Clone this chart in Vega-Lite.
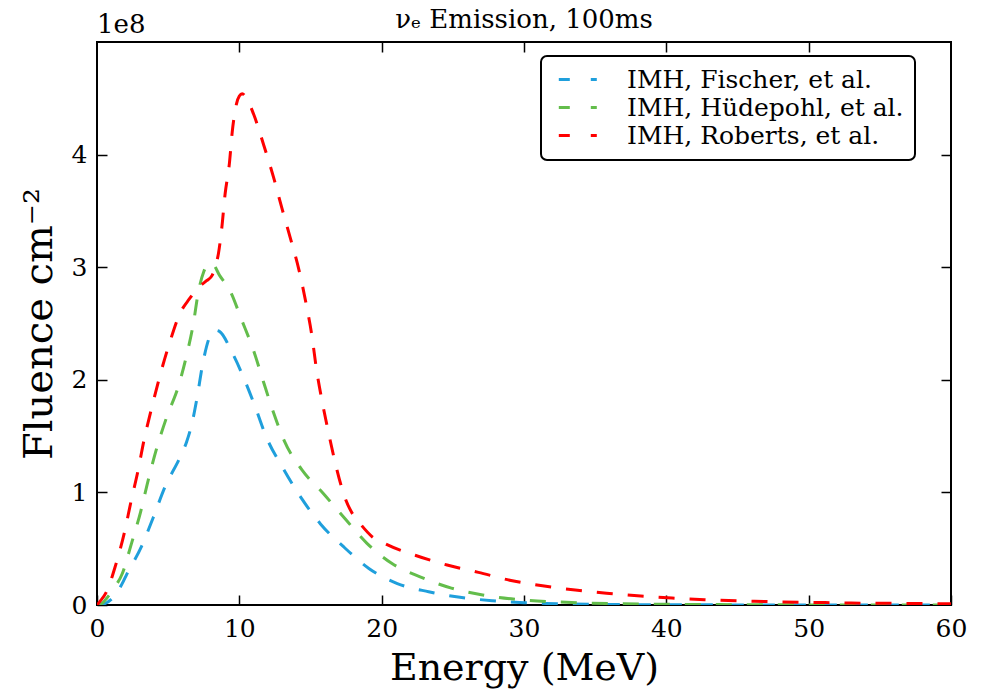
{
  "$schema": "https://vega.github.io/schema/vega-lite/v6.json",
  "width": 854,
  "height": 563,
  "autosize": "none",
  "padding": {"left": 97, "top": 42, "right": 31, "bottom": 85},
  "background": "white",
  "config": {
    "font": "DejaVu Serif",
    "view": {"stroke": "black", "strokeWidth": 2},
    "axis": {
      "grid": false,
      "domain": false,
      "tickColor": "black",
      "tickWidth": 1.5,
      "tickSize": -10,
      "labelFont": "DejaVu Serif",
      "labelFontSize": 25,
      "labelColor": "black",
      "labelFlush": false,
      "labelOverlap": false,
      "titleFont": "DejaVu Serif",
      "titleFontWeight": "normal",
      "titleColor": "black"
    },
    "legend": {"strokeWidth": 2}
  },
  "title": {
    "text": "νₑ Emission, 100ms",
    "font": "DejaVu Serif",
    "fontSize": 26,
    "fontWeight": "normal",
    "color": "black",
    "anchor": "middle",
    "offset": -21
  },
  "layer": [
    {
      "data": {"values": [
        {"model": "IMH, Fischer, et al.", "energy": 0, "fluence": 0},
        {"model": "IMH, Fischer, et al.", "energy": 0.5, "fluence": 0.01},
        {"model": "IMH, Fischer, et al.", "energy": 1.0, "fluence": 0.05},
        {"model": "IMH, Fischer, et al.", "energy": 1.5, "fluence": 0.13},
        {"model": "IMH, Fischer, et al.", "energy": 1.85, "fluence": 0.21},
        {"model": "IMH, Fischer, et al.", "energy": 2.08, "fluence": 0.27},
        {"model": "IMH, Fischer, et al.", "energy": 3.13, "fluence": 0.52},
        {"model": "IMH, Fischer, et al.", "energy": 3.96, "fluence": 0.78},
        {"model": "IMH, Fischer, et al.", "energy": 4.78, "fluence": 1.05},
        {"model": "IMH, Fischer, et al.", "energy": 5.83, "fluence": 1.31},
        {"model": "IMH, Fischer, et al.", "energy": 6.3, "fluence": 1.45},
        {"model": "IMH, Fischer, et al.", "energy": 6.65, "fluence": 1.6},
        {"model": "IMH, Fischer, et al.", "energy": 7.0, "fluence": 1.82},
        {"model": "IMH, Fischer, et al.", "energy": 7.47, "fluence": 2.17},
        {"model": "IMH, Fischer, et al.", "energy": 7.94, "fluence": 2.39},
        {"model": "IMH, Fischer, et al.", "energy": 8.3, "fluence": 2.44},
        {"model": "IMH, Fischer, et al.", "energy": 8.6, "fluence": 2.43},
        {"model": "IMH, Fischer, et al.", "energy": 9.46, "fluence": 2.25},
        {"model": "IMH, Fischer, et al.", "energy": 10.4, "fluence": 1.99},
        {"model": "IMH, Fischer, et al.", "energy": 11.2, "fluence": 1.73},
        {"model": "IMH, Fischer, et al.", "energy": 11.9, "fluence": 1.49},
        {"model": "IMH, Fischer, et al.", "energy": 13.0, "fluence": 1.23},
        {"model": "IMH, Fischer, et al.", "energy": 14.3, "fluence": 0.96},
        {"model": "IMH, Fischer, et al.", "energy": 15.7, "fluence": 0.72},
        {"model": "IMH, Fischer, et al.", "energy": 17.3, "fluence": 0.52},
        {"model": "IMH, Fischer, et al.", "energy": 19.1, "fluence": 0.325},
        {"model": "IMH, Fischer, et al.", "energy": 21.1, "fluence": 0.19},
        {"model": "IMH, Fischer, et al.", "energy": 23.3, "fluence": 0.118},
        {"model": "IMH, Fischer, et al.", "energy": 25.5, "fluence": 0.068},
        {"model": "IMH, Fischer, et al.", "energy": 27.8, "fluence": 0.038},
        {"model": "IMH, Fischer, et al.", "energy": 30.0, "fluence": 0.02},
        {"model": "IMH, Fischer, et al.", "energy": 32.3, "fluence": 0.012},
        {"model": "IMH, Fischer, et al.", "energy": 34.6, "fluence": 0.006},
        {"model": "IMH, Fischer, et al.", "energy": 40, "fluence": 0.002},
        {"model": "IMH, Fischer, et al.", "energy": 50, "fluence": 0.0005},
        {"model": "IMH, Fischer, et al.", "energy": 60, "fluence": 0},
        {"model": "IMH, Hüdepohl, et al.", "energy": 0, "fluence": 0},
        {"model": "IMH, Hüdepohl, et al.", "energy": 0.4, "fluence": 0.02},
        {"model": "IMH, Hüdepohl, et al.", "energy": 0.68, "fluence": 0.06},
        {"model": "IMH, Hüdepohl, et al.", "energy": 1.2, "fluence": 0.15},
        {"model": "IMH, Hüdepohl, et al.", "energy": 1.78, "fluence": 0.28},
        {"model": "IMH, Hüdepohl, et al.", "energy": 2.43, "fluence": 0.55},
        {"model": "IMH, Hüdepohl, et al.", "energy": 3.07, "fluence": 0.83},
        {"model": "IMH, Hüdepohl, et al.", "energy": 3.6, "fluence": 1.11},
        {"model": "IMH, Hüdepohl, et al.", "energy": 4.19, "fluence": 1.39},
        {"model": "IMH, Hüdepohl, et al.", "energy": 4.9, "fluence": 1.67},
        {"model": "IMH, Hüdepohl, et al.", "energy": 5.71, "fluence": 1.94},
        {"model": "IMH, Hüdepohl, et al.", "energy": 6.3, "fluence": 2.22},
        {"model": "IMH, Hüdepohl, et al.", "energy": 6.77, "fluence": 2.5},
        {"model": "IMH, Hüdepohl, et al.", "energy": 7.12, "fluence": 2.78},
        {"model": "IMH, Hüdepohl, et al.", "energy": 7.5, "fluence": 2.96},
        {"model": "IMH, Hüdepohl, et al.", "energy": 7.82, "fluence": 3.03},
        {"model": "IMH, Hüdepohl, et al.", "energy": 8.17, "fluence": 3.02},
        {"model": "IMH, Hüdepohl, et al.", "energy": 8.6, "fluence": 2.93},
        {"model": "IMH, Hüdepohl, et al.", "energy": 9.35, "fluence": 2.79},
        {"model": "IMH, Hüdepohl, et al.", "energy": 10.17, "fluence": 2.53},
        {"model": "IMH, Hüdepohl, et al.", "energy": 11.0, "fluence": 2.26},
        {"model": "IMH, Hüdepohl, et al.", "energy": 11.7, "fluence": 1.98},
        {"model": "IMH, Hüdepohl, et al.", "energy": 12.4, "fluence": 1.71},
        {"model": "IMH, Hüdepohl, et al.", "energy": 13.15, "fluence": 1.46},
        {"model": "IMH, Hüdepohl, et al.", "energy": 14.4, "fluence": 1.2},
        {"model": "IMH, Hüdepohl, et al.", "energy": 15.9, "fluence": 0.99},
        {"model": "IMH, Hüdepohl, et al.", "energy": 17.4, "fluence": 0.77},
        {"model": "IMH, Hüdepohl, et al.", "energy": 18.95, "fluence": 0.55},
        {"model": "IMH, Hüdepohl, et al.", "energy": 20.7, "fluence": 0.37},
        {"model": "IMH, Hüdepohl, et al.", "energy": 22.7, "fluence": 0.25},
        {"model": "IMH, Hüdepohl, et al.", "energy": 24.9, "fluence": 0.15},
        {"model": "IMH, Hüdepohl, et al.", "energy": 27.1, "fluence": 0.089},
        {"model": "IMH, Hüdepohl, et al.", "energy": 29.5, "fluence": 0.05},
        {"model": "IMH, Hüdepohl, et al.", "energy": 31.8, "fluence": 0.03},
        {"model": "IMH, Hüdepohl, et al.", "energy": 33.9, "fluence": 0.02},
        {"model": "IMH, Hüdepohl, et al.", "energy": 36.2, "fluence": 0.012},
        {"model": "IMH, Hüdepohl, et al.", "energy": 40, "fluence": 0.006},
        {"model": "IMH, Hüdepohl, et al.", "energy": 45, "fluence": 0.003},
        {"model": "IMH, Hüdepohl, et al.", "energy": 50, "fluence": 0.001},
        {"model": "IMH, Hüdepohl, et al.", "energy": 60, "fluence": 0},
        {"model": "IMH,  Roberts, et al.", "energy": 0, "fluence": 0},
        {"model": "IMH,  Roberts, et al.", "energy": 0.2, "fluence": 0.03},
        {"model": "IMH,  Roberts, et al.", "energy": 0.68, "fluence": 0.12},
        {"model": "IMH,  Roberts, et al.", "energy": 1.3, "fluence": 0.35},
        {"model": "IMH,  Roberts, et al.", "energy": 1.92, "fluence": 0.64},
        {"model": "IMH,  Roberts, et al.", "energy": 2.39, "fluence": 0.92},
        {"model": "IMH,  Roberts, et al.", "energy": 2.86, "fluence": 1.18},
        {"model": "IMH,  Roberts, et al.", "energy": 3.33, "fluence": 1.48},
        {"model": "IMH,  Roberts, et al.", "energy": 3.84, "fluence": 1.75},
        {"model": "IMH,  Roberts, et al.", "energy": 4.43, "fluence": 2.04},
        {"model": "IMH,  Roberts, et al.", "energy": 5.08, "fluence": 2.32},
        {"model": "IMH,  Roberts, et al.", "energy": 5.83, "fluence": 2.59},
        {"model": "IMH,  Roberts, et al.", "energy": 6.5, "fluence": 2.72},
        {"model": "IMH,  Roberts, et al.", "energy": 7.12, "fluence": 2.82},
        {"model": "IMH,  Roberts, et al.", "energy": 7.7, "fluence": 2.88},
        {"model": "IMH,  Roberts, et al.", "energy": 8.1, "fluence": 2.93},
        {"model": "IMH,  Roberts, et al.", "energy": 8.3, "fluence": 3.0},
        {"model": "IMH,  Roberts, et al.", "energy": 8.53, "fluence": 3.12},
        {"model": "IMH,  Roberts, et al.", "energy": 8.76, "fluence": 3.34},
        {"model": "IMH,  Roberts, et al.", "energy": 9.0, "fluence": 3.65},
        {"model": "IMH,  Roberts, et al.", "energy": 9.3, "fluence": 3.92},
        {"model": "IMH,  Roberts, et al.", "energy": 9.5, "fluence": 4.2},
        {"model": "IMH,  Roberts, et al.", "energy": 9.8, "fluence": 4.45},
        {"model": "IMH,  Roberts, et al.", "energy": 10.0, "fluence": 4.52},
        {"model": "IMH,  Roberts, et al.", "energy": 10.2, "fluence": 4.54},
        {"model": "IMH,  Roberts, et al.", "energy": 10.5, "fluence": 4.5},
        {"model": "IMH,  Roberts, et al.", "energy": 11.0, "fluence": 4.36},
        {"model": "IMH,  Roberts, et al.", "energy": 11.7, "fluence": 4.09},
        {"model": "IMH,  Roberts, et al.", "energy": 12.4, "fluence": 3.8},
        {"model": "IMH,  Roberts, et al.", "energy": 13.0, "fluence": 3.52},
        {"model": "IMH,  Roberts, et al.", "energy": 13.56, "fluence": 3.27},
        {"model": "IMH,  Roberts, et al.", "energy": 14.2, "fluence": 2.97},
        {"model": "IMH,  Roberts, et al.", "energy": 14.7, "fluence": 2.67},
        {"model": "IMH,  Roberts, et al.", "energy": 15.1, "fluence": 2.39},
        {"model": "IMH,  Roberts, et al.", "energy": 15.4, "fluence": 2.11},
        {"model": "IMH,  Roberts, et al.", "energy": 15.8, "fluence": 1.82},
        {"model": "IMH,  Roberts, et al.", "energy": 16.25, "fluence": 1.54},
        {"model": "IMH,  Roberts, et al.", "energy": 16.8, "fluence": 1.23},
        {"model": "IMH,  Roberts, et al.", "energy": 17.4, "fluence": 0.96},
        {"model": "IMH,  Roberts, et al.", "energy": 18.0, "fluence": 0.8},
        {"model": "IMH,  Roberts, et al.", "energy": 18.5, "fluence": 0.72},
        {"model": "IMH,  Roberts, et al.", "energy": 19.3, "fluence": 0.61},
        {"model": "IMH,  Roberts, et al.", "energy": 20.3, "fluence": 0.54},
        {"model": "IMH,  Roberts, et al.", "energy": 22.4, "fluence": 0.44},
        {"model": "IMH,  Roberts, et al.", "energy": 24.6, "fluence": 0.355},
        {"model": "IMH,  Roberts, et al.", "energy": 26.8, "fluence": 0.29},
        {"model": "IMH,  Roberts, et al.", "energy": 29.0, "fluence": 0.22},
        {"model": "IMH,  Roberts, et al.", "energy": 31.3, "fluence": 0.17},
        {"model": "IMH,  Roberts, et al.", "energy": 33.6, "fluence": 0.133},
        {"model": "IMH,  Roberts, et al.", "energy": 35.8, "fluence": 0.105},
        {"model": "IMH,  Roberts, et al.", "energy": 38.2, "fluence": 0.08},
        {"model": "IMH,  Roberts, et al.", "energy": 40.4, "fluence": 0.062},
        {"model": "IMH,  Roberts, et al.", "energy": 42.7, "fluence": 0.047},
        {"model": "IMH,  Roberts, et al.", "energy": 45.0, "fluence": 0.037},
        {"model": "IMH,  Roberts, et al.", "energy": 47.3, "fluence": 0.03},
        {"model": "IMH,  Roberts, et al.", "energy": 49.6, "fluence": 0.024},
        {"model": "IMH,  Roberts, et al.", "energy": 51.8, "fluence": 0.02},
        {"model": "IMH,  Roberts, et al.", "energy": 54.0, "fluence": 0.016},
        {"model": "IMH,  Roberts, et al.", "energy": 56.4, "fluence": 0.014},
        {"model": "IMH,  Roberts, et al.", "energy": 58.7, "fluence": 0.012},
        {"model": "IMH,  Roberts, et al.", "energy": 60, "fluence": 0.011}
      ]},
      "mark": {"type": "line", "strokeDash": [16, 15], "strokeWidth": 3, "interpolate": "monotone", "clip": true},
      "encoding": {
        "x": {
          "field": "energy", "type": "quantitative",
          "scale": {"domain": [0, 60], "nice": false, "zero": false},
          "axis": {"orient": "bottom", "values": [0, 10, 20, 30, 40, 50, 60], "labelPadding": 21, "title": "Energy (MeV)", "titleFontSize": 38, "titlePadding": 8}
        },
        "y": {
          "field": "fluence", "type": "quantitative",
          "scale": {"domain": [0, 5], "nice": false},
          "axis": {"orient": "left", "values": [0, 1, 2, 3, 4], "labelPadding": 20, "title": "Fluence cm⁻²", "titleFontSize": 40, "titlePadding": 12}
        },
        "color": {
          "field": "model", "type": "nominal",
          "scale": {
            "domain": ["IMH, Fischer, et al.", "IMH, Hüdepohl, et al.", "IMH,  Roberts, et al."],
            "range": ["#1f9fdc", "#63bd4b", "#ff0000"]
          },
          "legend": {
            "orient": "none",
            "legendX": 444,
            "legendY": 14,
            "title": null,
            "padding": 11,
            "rowPadding": 2,
            "labelFont": "DejaVu Serif",
            "labelFontSize": 25,
            "labelColor": "black",
            "labelOffset": 50,
            "labelLimit": 400,
            "symbolType": "M-0.6,0H3.4",
            "symbolSize": 361,
            "symbolStrokeWidth": 3,
            "symbolDash": [11, 21],
            "symbolFillColor": "transparent",
            "strokeColor": "black",
            "fillColor": "white",
            "cornerRadius": 6
          }
        }
      }
    },
    {
      "data": {"values": [{"energy": 0, "fluence": 5, "label": "1e8"}]},
      "mark": {"type": "text", "align": "left", "baseline": "alphabetic", "dy": -9, "fontSize": 26, "font": "DejaVu Serif", "color": "black"},
      "encoding": {
        "x": {"field": "energy", "type": "quantitative", "axis": {"orient": "top", "values": [10, 20, 30, 40, 50], "labels": false, "title": null}},
        "y": {"field": "fluence", "type": "quantitative", "axis": {"orient": "right", "values": [1, 2, 3, 4], "labels": false, "title": null}},
        "text": {"field": "label"}
      }
    }
  ],
  "resolve": {"axis": {"x": "independent", "y": "independent"}}
}
